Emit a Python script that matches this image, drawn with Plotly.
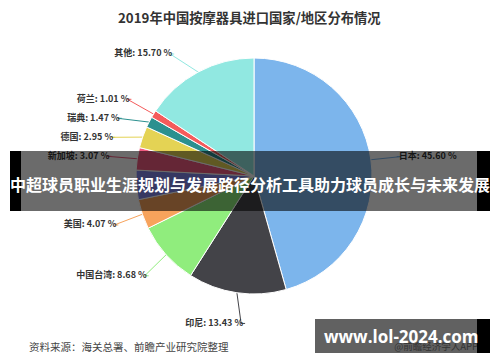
import math
import plotly.graph_objects as go

# ---- data ----
regions = ["日本", "印尼", "中国台湾", "美国", "韩国", "新加坡", "德国", "瑞典", "荷兰", "其他"]
shares = [45.60, 13.43, 8.68, 4.07, 4.02, 3.07, 2.95, 1.47, 1.01, 15.70]
colors = ["#7cb5ec", "#434348", "#90ed7d", "#f7a35c", "#8085e9",
          "#f15c80", "#e4d354", "#2b908f", "#f45b5b", "#91e8e1"]
hidden_labels = ["韩国"]          # label fully covered by the banner in the reference
title_text = "2019年中国按摩器具进口国家/地区分布情况"
source_text = "资料来源：海关总署、前瞻产业研究院整理"
banner_text = "中超球员职业生涯规划与发展路径分析工具助力球员成长与未来发展"
site_text = "www.lol-2024.com"
credit_text = "@前瞻经济学人APP"

# ---- layout geometry (page pixels) ----
PAGE_W, PAGE_H = 500, 362
BODY = 8                       # default html body margin
W, H = PAGE_W - BODY, PAGE_H - BODY
CX, CY, R = 254, 176, 118
DIST = 30
GAP = 19
TOP = 53

FONT = "Noto Sans CJK SC, Noto Sans, sans-serif"

total = sum(shares)
cum = 0.0
items = []
for name, v, c in zip(regions, shares, colors):
    mid = (cum + v / 2) / total * 2 * math.pi
    cum += v
    s, co = math.sin(mid), math.cos(mid)
    items.append(dict(name=name, v=v, c=c,
                      ex=CX + R * s, ey=CY - R * co,
                      raw_y=CY - (R + DIST) * co,
                      side=1 if s >= 0 else -1))

for side in (1, -1):
    grp = sorted([it for it in items if it["side"] == side], key=lambda d: d["raw_y"])
    prev = -1e9
    for it in grp:
        y = max(it["raw_y"], prev + GAP, TOP)
        it["y"] = y + 1
        prev = y
for it in items:
    dy = it["y"] - CY
    it["xc"] = CX + it["side"] * math.sqrt(max((R + DIST) ** 2 - dy ** 2, 0))

shown = [it for it in items if it["name"] not in hidden_labels]

fig = go.Figure()

for it in shown:
    fig.add_trace(go.Scatter(
        x=[it["xc"] - it["side"] * 4, it["xc"], it["ex"]],
        y=[it["y"], it["y"], it["ey"]],
        mode="lines", line=dict(color=it["c"], width=1),
        hoverinfo="skip", showlegend=False))

for side, pos in ((-1, "middle left"), (1, "middle right")):
    grp = [it for it in shown if it["side"] == side]
    fig.add_trace(go.Scatter(
        x=[it["xc"] - side * 2 for it in grp],
        y=[it["y"] for it in grp],
        mode="text",
        text=[f"{it['name']}: {it['v']:.2f} %" for it in grp],
        textposition=pos,
        textfont=dict(family=FONT, size=9, color="#333333", weight="bold"),
        marker=dict(size=6),
        hoverinfo="skip", showlegend=False))

fig.add_trace(go.Scatter(
    x=[478], y=[348], mode="text", text=[credit_text], textposition="middle left",
    textfont=dict(family=FONT, size=9.5, color="#8a8a8a"),
    hoverinfo="skip", showlegend=False))

fig.add_trace(go.Pie(
    labels=regions, values=shares, sort=False, direction="clockwise", rotation=0,
    marker=dict(colors=colors, line=dict(color="#ffffff", width=1)),
    textinfo="none", hoverinfo="skip", showlegend=False,
    domain=dict(x=[(CX - R - BODY) / W, (CX + R - BODY) / W],
                y=[(PAGE_H - CY - R) / H, (PAGE_H - CY + R) / H])))

shapes = [
    dict(type="rect", x0=10, x1=490, y0=151, y1=211, fillcolor="rgba(0,0,0,0.58)", line=dict(width=0)),
    dict(type="rect", x0=10, x1=21, y0=151, y1=211, fillcolor="#000000", line=dict(width=0)),
    dict(type="rect", x0=477, x1=490, y0=151, y1=211, fillcolor="#000000", line=dict(width=0)),
    dict(type="rect", x0=315, x1=490, y0=319, y1=353, fillcolor="rgba(0,0,0,0.62)", line=dict(width=0)),
    dict(type="rect", x0=477, x1=490, y0=319, y1=353, fillcolor="#000000", line=dict(width=0)),
]
for sh in shapes:
    sh.update(xref="x", yref="y", layer="above")

annotations = [
    dict(x=249, y=17, text=f"<b>{title_text}</b>", showarrow=False,
         font=dict(family=FONT, size=13.3, color="#333333"), xanchor="center", yanchor="middle"),
    dict(x=27, y=346, text=source_text, showarrow=False,
         font=dict(family=FONT, size=10.5, color="#444444"), xanchor="left", yanchor="middle"),
    dict(x=250, y=184, text=f"<b>{banner_text}</b>", showarrow=False,
         font=dict(family=FONT, size=16, color="#ffffff"), xanchor="center", yanchor="middle"),
    dict(x=401, y=336, text=f"<b>{site_text}</b>", showarrow=False,
         font=dict(family="Open Sans, Noto Sans, sans-serif", size=17, color="#ffffff"),
         xanchor="center", yanchor="middle"),
]
for a in annotations:
    a.update(xref="x", yref="y")

fig.update_layout(
    width=W, height=H, margin=dict(l=0, r=0, t=0, b=0),
    paper_bgcolor="#ffffff", plot_bgcolor="rgba(0,0,0,0)",
    xaxis=dict(range=[BODY, PAGE_W], visible=False, fixedrange=True),
    yaxis=dict(range=[PAGE_H, BODY], visible=False, fixedrange=True),
    shapes=shapes, annotations=annotations,
)

fig.write_html("out.html")
